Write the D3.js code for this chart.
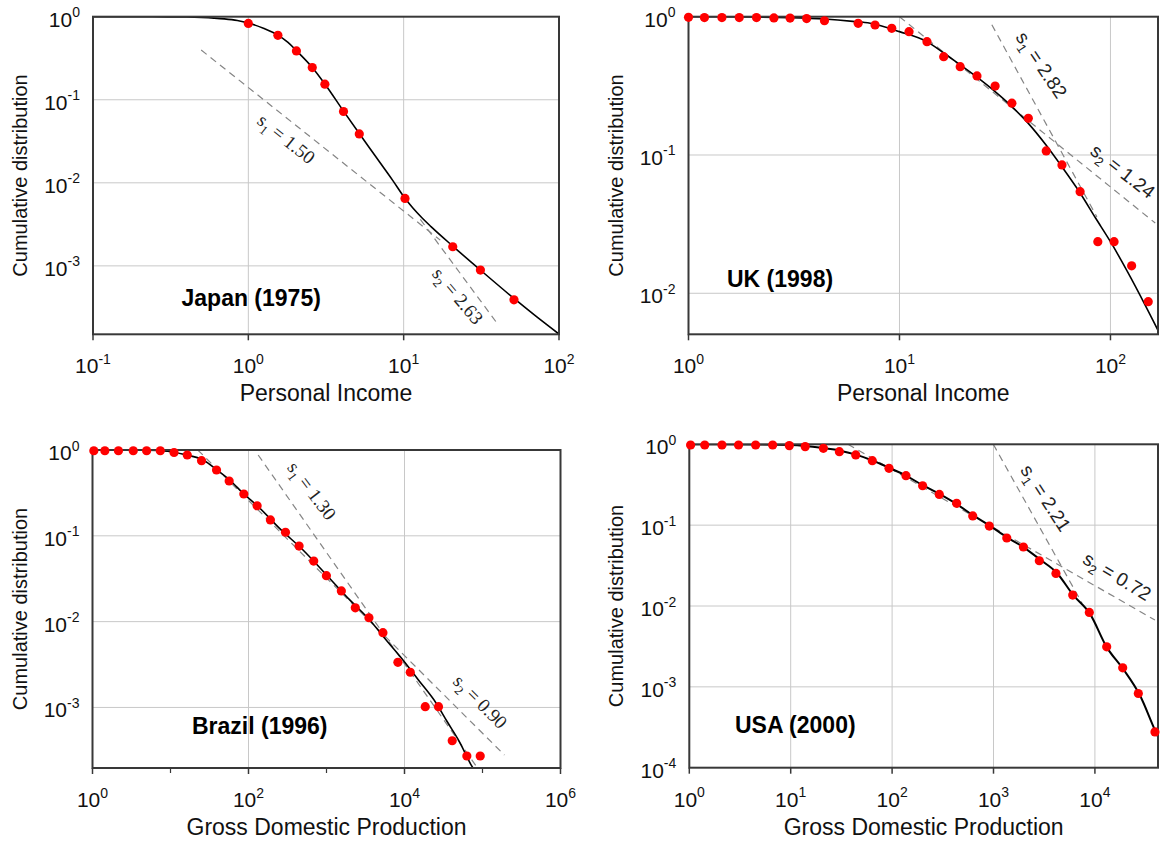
<!DOCTYPE html>
<html>
<head>
<meta charset="utf-8">
<script src="https://cdn.jsdelivr.net/npm/d3@7"></script>
<style>
  html,body{margin:0;padding:0;background:#fff;}
  svg{display:block;}
</style>
</head>
<body>
<svg id="chart" width="1160" height="841"></svg>
<script>
// ---------------- DATA ----------------
// Japan (1975) — personal income
const japanIncome   = [1.0, 1.55, 2.04, 2.58, 3.11, 4.10, 5.18, 10.2, 20.7, 31.2, 51.3];
const japanCumDist  = [0.83, 0.597, 0.387, 0.244, 0.154, 0.0722, 0.0388, 0.00648, 0.0017, 0.00089, 0.00039];
const japanFitX     = [0.1, 0.2, 0.3, 0.4, 0.5, 0.6, 0.7, 0.85, 1.0, 1.25, 1.55, 1.8, 2.04, 2.58, 3.11, 4.10, 5.18, 6.0, 7.0, 8.5, 10.2, 11.5, 13.2, 15, 20.7, 31.2, 51.3, 70, 100];
const japanFitY     = [1.0, 0.999, 0.996, 0.99, 0.978, 0.962, 0.942, 0.90, 0.84, 0.725, 0.60, 0.49, 0.39, 0.245, 0.155, 0.073, 0.0392, 0.0266, 0.0178, 0.0107, 0.0065, 0.00493, 0.00374, 0.00297, 0.00173, 0.00089, 0.000405, 0.000253, 0.000151];
const japanS1X = [0.497, 17.2],  japanS1Y = [0.397, 0.00204];
const japanS2X = [12.8, 40.8],   japanS2Y = [0.00363, 0.000193];
const japanSlopes = [1.50, 2.63];

// UK (1998) — personal income
const ukIncome  = [1.0, 1.19, 1.44, 1.74, 2.10, 2.54, 3.03, 3.63, 4.41, 6.37, 7.66, 9.19, 11.1, 13.5, 16.2, 19.4, 23.3, 28.4, 34.1, 40.8, 49.6, 58.9, 71.8, 87.1, 104, 126, 151];
const ukCumDist = [0.99, 0.985, 0.985, 0.985, 0.985, 0.98, 0.978, 0.97, 0.935, 0.895, 0.871, 0.824, 0.779, 0.660, 0.514, 0.435, 0.373, 0.315, 0.237, 0.184, 0.107, 0.0847, 0.0543, 0.0236, 0.0236, 0.0158, 0.0087];
const ukFitX    = [1, 2, 3, 4.41, 6.0, 7.26, 10, 13.5, 15.9, 19.4, 23.3, 28.4, 34.1, 40.7, 49.5, 58.8, 71.8, 85, 100, 124, 168];
const ukFitY    = [1.0, 0.995, 0.985, 0.962, 0.925, 0.896, 0.78, 0.66, 0.558, 0.448, 0.365, 0.287, 0.224, 0.170, 0.118, 0.0824, 0.0531, 0.035, 0.0236, 0.0132, 0.0054];
const ukS1X = [27.4, 86.2],  ukS1Y = [0.875, 0.0357];
const ukS2X = [10.0, 163],   ukS2Y = [1.0, 0.0322];
const ukSlopes = [2.82, 1.24];

// Brazil (1996) — gross domestic production
const brazilGDP     = [1.04, 1.44, 2.15, 3.33, 4.94, 7.40, 11.1, 16.4, 25.0, 38.9, 56.5, 87.1, 129, 191, 298, 445, 686, 997, 1550, 2340, 3500, 5290, 8230, 11860, 18450, 27300, 40900, 63000, 93500];
const brazilCumDist = [0.98, 0.98, 0.98, 0.98, 0.98, 0.98, 0.935, 0.875, 0.75, 0.585, 0.435, 0.307, 0.224, 0.153, 0.110, 0.076, 0.0508, 0.0343, 0.0228, 0.0145, 0.0111, 0.00743, 0.00336, 0.00257, 0.00102, 0.00102, 0.000409, 0.000272, 0.000272];
const brazilFitX    = [1, 5, 9.83, 15, 26.2, 40, 57.3, 85.3, 136, 250, 500, 1000, 2000, 3575, 6000, 9550, 15000, 25500, 35000, 50700, 71700, 76000];
const brazilFitY    = [1.0, 0.997, 0.96, 0.885, 0.765, 0.58, 0.447, 0.313, 0.215, 0.122, 0.0683, 0.035, 0.0178, 0.01044, 0.0059, 0.00357, 0.0021, 0.00112, 0.00069, 0.000398, 0.000213, 0.000195];
const brazilS1X = [133, 86300],   brazilS1Y = [0.875, 0.000197];
const brazilS2X = [22.4, 191000], brazilS2Y = [1.0, 0.000279];
const brazilSlopes = [1.30, 0.90];

// USA (2000) — gross domestic production
const usaGDP     = [1.03, 1.42, 2.10, 3.06, 4.51, 6.64, 9.69, 13.9, 21.0, 30.2, 43.8, 63.8, 93.2, 137, 200, 292, 433, 624, 909, 1352, 1972, 2830, 4130, 6040, 8810, 13070, 18800, 26800, 39100];
const usaCumDist = [0.98, 0.98, 0.98, 0.98, 0.98, 0.98, 0.963, 0.936, 0.892, 0.81, 0.738, 0.627, 0.505, 0.409, 0.307, 0.240, 0.186, 0.130, 0.0975, 0.0694, 0.0537, 0.0363, 0.0253, 0.01364, 0.00833, 0.00313, 0.00172, 0.000828, 0.000277];
const usaFitX    = [1, 5, 10, 20, 30, 44, 64, 94, 137, 200, 292, 433, 624, 923, 1350, 1967, 2880, 4200, 6120, 8950, 13070, 19060, 27860, 39170, 42000];
const usaFitY    = [1.0, 0.995, 0.978, 0.905, 0.84, 0.745, 0.63, 0.51, 0.41, 0.312, 0.243, 0.182, 0.133, 0.098, 0.071, 0.0535, 0.0375, 0.0258, 0.01364, 0.0080, 0.0031, 0.00165, 0.00078, 0.00029, 0.00024];
const usaS1X = [995, 7460],   usaS1Y = [1.0, 0.01086];
const usaS2X = [36.7, 39100], usaS2Y = [1.0, 0.0067];
const usaSlopes = [2.21, 0.72];

// tick exponents (labels are 10^e)
const japanXTicks  = [-1, 0, 1, 2],    japanYTicks  = [0, -1, -2, -3];
const ukXTicks     = [0, 1, 2],        ukYTicks     = [0, -1, -2];
const brazilXTicks = [0, 2, 4, 6],     brazilYTicks = [0, -1, -2, -3];
const brazilXMinor = [1, 3, 5];
const usaXTicks    = [0, 1, 2, 3, 4],  usaYTicks    = [0, -1, -2, -3, -4];

const panelTitles = ['Japan (1975)', 'UK (1998)', 'Brazil (1996)', 'USA (2000)'];
const xTitles = ['Personal Income', 'Personal Income', 'Gross Domestic Production', 'Gross Domestic Production'];
const yTitle = 'Cumulative distribution';

// ---------------- LAYOUT ----------------
const SANS = "'Liberation Sans', Arial, Helvetica, sans-serif";
const SERIF = "'Liberation Serif', 'Times New Roman', serif";

const panels = [
  { id:'japan', box:{L:93, R:559, T:16.7, B:334.3}, xDomain:[0.1,100], yDomain:[1.5e-4,1],
    xs:japanIncome, ys:japanCumDist, fitX:japanFitX, fitY:japanFitY,
    xTicks:japanXTicks, yTicks:japanYTicks, xMinor:[], xGrid:[0,1], yGrid:[-1,-2,-3],
    slopes:[{x:japanS1X,y:japanS1Y,sub:'1',v:japanSlopes[0],dx:193,dy:122.5,a:38.6},
            {x:japanS2X,y:japanS2Y,sub:'2',v:japanSlopes[1],dx:364.5,dy:279.5,a:50}],
    slopeFont:SERIF, title:panelTitles[0], titlePos:[181.5,306], xTitle:xTitles[0], curveW:1.6 },
  { id:'uk', box:{L:688.5, R:1158, T:16.7, B:334.3}, xDomain:[1,168], yDomain:[0.00505,1],
    xs:ukIncome, ys:ukCumDist, fitX:ukFitX, fitY:ukFitY,
    xTicks:ukXTicks, yTicks:ukYTicks, xMinor:[], xGrid:[1,2], yGrid:[-1,-2],
    slopes:[{x:ukS1X,y:ukS1Y,sub:'1',v:ukSlopes[0],dx:352.5,dy:48.5,a:56},
            {x:ukS2X,y:ukS2Y,sub:'2',v:ukSlopes[1],dx:434,dy:155,a:38}],
    slopeFont:SANS, title:panelTitles[1], titlePos:[727,287], xTitle:xTitles[1], curveW:1.6 },
  { id:'brazil', box:{L:92.5, R:560.5, T:450, B:768}, xDomain:[1,1e6], yDomain:[1.97e-4,1],
    xs:brazilGDP, ys:brazilCumDist, fitX:brazilFitX, fitY:brazilFitY,
    xTicks:brazilXTicks, yTicks:brazilYTicks, xMinor:brazilXMinor, xGrid:[2,4], yGrid:[-1,-2,-3],
    slopes:[{x:brazilS1X,y:brazilS1Y,sub:'1',v:brazilSlopes[0],dx:219,dy:41,a:53},
            {x:brazilS2X,y:brazilS2Y,sub:'2',v:brazilSlopes[1],dx:387.5,dy:252,a:45}],
    slopeFont:SERIF, title:panelTitles[2], titlePos:[192,734], xTitle:xTitles[2], curveW:1.6 },
  { id:'usa', box:{L:689.3, R:1158, T:444.3, B:767.7}, xDomain:[1,41900], yDomain:[1e-4,1],
    xs:usaGDP, ys:usaCumDist, fitX:usaFitX, fitY:usaFitY,
    xTicks:usaXTicks, yTicks:usaYTicks, xMinor:[], xGrid:[1,2,3,4], yGrid:[-1,-2,-3],
    slopes:[{x:usaS1X,y:usaS1Y,sub:'1',v:usaSlopes[0],dx:356,dy:54,a:57},
            {x:usaS2X,y:usaS2Y,sub:'2',v:usaSlopes[1],dx:427.5,dy:132.5,a:31}],
    slopeFont:SANS, title:panelTitles[3], titlePos:[735,733], xTitle:xTitles[3], curveW:2 }
];

const svg = d3.select('#chart');
const defs = svg.append('defs');

function powText(sel, e) {
  sel.append('tspan').text('10');
  sel.append('tspan').attr('font-size', 14).attr('dy', -9.5).text(String(e));
}

function drawPanel(p) {
  const {L, R, T, B} = p.box;
  const x = d3.scaleLog().domain(p.xDomain).range([L, R]);
  const y = d3.scaleLog().domain(p.yDomain).range([B, T]);
  const g = svg.append('g').attr('class', 'panel-' + p.id);
  const clipId = 'clip-' + p.id;
  defs.append('clipPath').attr('id', clipId).append('rect')
    .attr('x', L).attr('y', T).attr('width', R - L).attr('height', B - T);

  // grid
  g.append('g').selectAll('line').data(p.xGrid).join('line')
    .attr('x1', d => x(Math.pow(10, d))).attr('x2', d => x(Math.pow(10, d)))
    .attr('y1', T).attr('y2', B)
    .attr('stroke', '#c8c8c8').attr('stroke-width', 1);
  g.append('g').selectAll('line').data(p.yGrid).join('line')
    .attr('y1', d => y(Math.pow(10, d))).attr('y2', d => y(Math.pow(10, d)))
    .attr('x1', L).attr('x2', R)
    .attr('stroke', '#c8c8c8').attr('stroke-width', 1);

  // dashed power-law guides
  const guides = g.append('g').attr('clip-path', `url(#${clipId})`);
  p.slopes.forEach(s => {
    guides.append('line')
      .attr('x1', x(s.x[0])).attr('y1', y(s.y[0]))
      .attr('x2', x(s.x[1])).attr('y2', y(s.y[1]))
      .attr('stroke', '#858585').attr('stroke-width', 1.2)
      .attr('stroke-dasharray', '7,5');
  });

  // fit curve
  const line = d3.line().x(d => x(d[0])).y(d => y(d[1])).curve(d3.curveMonotoneX);
  g.append('path').datum(d3.zip(p.fitX, p.fitY))
    .attr('clip-path', `url(#${clipId})`)
    .attr('d', line).attr('fill', 'none')
    .attr('stroke', '#000').attr('stroke-width', p.curveW);

  // frame
  g.append('rect').attr('x', L).attr('y', T).attr('width', R - L).attr('height', B - T)
    .attr('fill', 'none').attr('stroke', '#383838').attr('stroke-width', 2);

  // x ticks
  g.append('g').selectAll('line').data(p.xTicks).join('line')
    .attr('x1', d => x(Math.pow(10, d))).attr('x2', d => x(Math.pow(10, d)))
    .attr('y1', B).attr('y2', B + 6).attr('stroke', '#383838').attr('stroke-width', 1.5);
  g.append('g').selectAll('line').data(p.xMinor).join('line')
    .attr('x1', d => x(Math.pow(10, d))).attr('x2', d => x(Math.pow(10, d)))
    .attr('y1', B).attr('y2', B + 5).attr('stroke', '#383838').attr('stroke-width', 1.2);

  // x tick labels
  p.xTicks.forEach(e => {
    const t = g.append('text').attr('x', x(Math.pow(10, e))).attr('y', B + 39)
      .attr('text-anchor', 'middle').attr('font-family', SANS).attr('font-size', 21).attr('fill', '#111');
    powText(t, e);
  });
  // y tick labels
  p.yTicks.forEach(e => {
    const t = g.append('text').attr('x', L - 13).attr('y', y(Math.pow(10, e)) + 10)
      .attr('text-anchor', 'end').attr('font-family', SANS).attr('font-size', 21).attr('fill', '#111');
    powText(t, e);
  });

  // axis titles
  g.append('text').attr('x', (L + R) / 2).attr('y', B + 67)
    .attr('text-anchor', 'middle').attr('font-family', SANS).attr('font-size', 23).attr('fill', '#111')
    .text(p.xTitle);
  g.append('text').attr('transform', `translate(${L - 66},${(T + B) / 2}) rotate(-90)`)
    .attr('text-anchor', 'middle').attr('font-family', SANS).attr('font-size', 20).attr('fill', '#111')
    .text(yTitle);

  // slope labels
  p.slopes.forEach(s => {
    const t = g.append('text')
      .attr('transform', `translate(${L + s.dx},${T + s.dy}) rotate(${s.a})`)
      .attr('y', 6).attr('text-anchor', 'middle')
      .attr('font-family', p.slopeFont).attr('font-size', 19).attr('fill', '#222');
    t.append('tspan').text('s');
    t.append('tspan').attr('font-size', 13).attr('dy', 5).text(s.sub);
    t.append('tspan').attr('dy', -5).text(' = ' + s.v.toFixed(2));
  });

  // panel title
  g.append('text').attr('x', p.titlePos[0]).attr('y', p.titlePos[1])
    .attr('font-family', SANS).attr('font-weight', 'bold').attr('font-size', 23).attr('fill', '#000')
    .text(p.title);

  // data points
  g.append('g').selectAll('circle').data(d3.zip(p.xs, p.ys)).join('circle')
    .attr('cx', d => x(d[0])).attr('cy', d => y(d[1])).attr('r', 4.6)
    .attr('fill', '#ff0000');
}

panels.forEach(drawPanel);
</script>
</body>
</html>
